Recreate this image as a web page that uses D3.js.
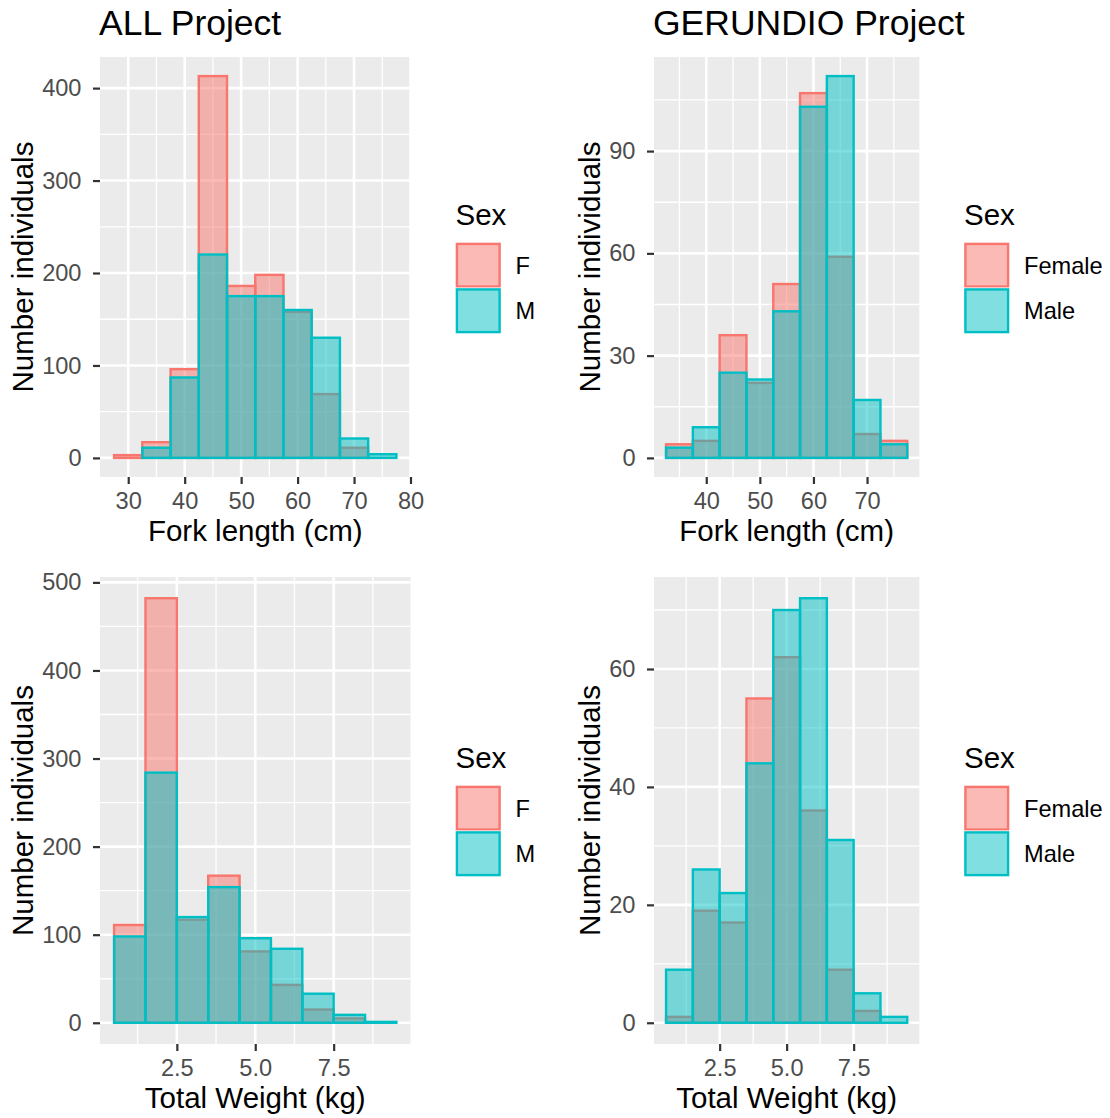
<!DOCTYPE html>
<html>
<head>
<meta charset="utf-8">
<script src="https://cdn.jsdelivr.net/npm/d3@7"></script>
<style>
  body { margin: 0; background: #fff; }
  svg text { font-family: "Liberation Sans", Arial, sans-serif; }
</style>
</head>
<body>
<div id="chart"></div>
<script>
// histogram counts (bin centres + counts per sex)
const allLenMids = [30, 35, 40, 45, 50, 55, 60, 65, 70, 75];
const allLenF = [3, 17, 96, 413, 186, 198, 158, 69, 11, 0];
const allLenM = [0, 11, 87, 220, 175, 175, 160, 130, 21, 4];

const gerLenMids = [35, 40, 45, 50, 55, 60, 65, 70, 75];
const gerLenF = [4, 5, 36, 22, 51, 107, 59, 7, 5];
const gerLenM = [3, 9, 25, 23, 43, 103, 112, 17, 4];

const allWtMids = [1, 2, 3, 4, 5, 6, 7, 8, 9];
const allWtF = [111, 482, 117, 167, 81, 43, 15, 5, 0];
const allWtM = [98, 284, 120, 154, 96, 84, 33, 9, 1];

const gerWtMids = [1, 2, 3, 4, 5, 6, 7, 8, 9];
const gerWtF = [1, 19, 17, 55, 62, 36, 9, 2, 0];
const gerWtM = [9, 26, 22, 44, 70, 72, 31, 5, 1];

// tick labels
const lenTicksAll = [30, 40, 50, 60, 70, 80];
const lenTicksGer = [40, 50, 60, 70];
const wtTicks = [2.5, 5.0, 7.5];
const yTicksAllLen = [0, 100, 200, 300, 400];
const yTicksGerLen = [0, 30, 60, 90];
const yTicksAllWt = [0, 100, 200, 300, 400, 500];
const yTicksGerWt = [0, 20, 40, 60];

const sexShort = ["F", "M"];
const sexLong = ["Female", "Male"];
const fillF = "#F8766D", fillM = "#00BFC4";

const svgWidth = 1110, svgHeight = 1118;
const tickSize = 23.6, titleSize = 29.5, plotTitleSize = 35.5;

const svg = d3.select("#chart").append("svg")
    .attr("width", svgWidth)
    .attr("height", svgHeight);

// panels: geometry + which data goes where
const panels = [
  { title: "ALL Project", xlab: "Fork length (cm)", left: 100, right: 410.5, top: 57, bottom: 477,
    mids: allLenMids, f: allLenF, m: allLenM, bw: 5, xTicks: lenTicksAll, yTicks: yTicksAllLen,
    xfmt: d3.format("d"), labels: sexShort, legX: 455.5, legY: 225 },
  { title: "GERUNDIO Project", xlab: "Fork length (cm)", left: 654, right: 919.3, top: 57, bottom: 477,
    mids: gerLenMids, f: gerLenF, m: gerLenM, bw: 5, xTicks: lenTicksGer, yTicks: yTicksGerLen,
    xfmt: d3.format("d"), labels: sexLong, legX: 964, legY: 225 },
  { title: null, xlab: "Total Weight (kg)", left: 100, right: 410.5, top: 577, bottom: 1044,
    mids: allWtMids, f: allWtF, m: allWtM, bw: 1, xTicks: wtTicks, yTicks: yTicksAllWt,
    xfmt: d3.format(".1f"), labels: sexShort, legX: 455.5, legY: 768 },
  { title: null, xlab: "Total Weight (kg)", left: 654, right: 919.3, top: 577, bottom: 1044,
    mids: gerWtMids, f: gerWtF, m: gerWtM, bw: 1, xTicks: wtTicks, yTicks: yTicksGerWt,
    xfmt: d3.format(".1f"), labels: sexLong, legX: 964, legY: 768 }
];

// midpoints between major breaks, extended one step each side
function minorBreaks(ticks, domain) {
  const step = ticks[1] - ticks[0];
  const ext = [ticks[0] - step, ...ticks, ticks[ticks.length - 1] + step];
  const out = [];
  for (let i = 0; i < ext.length - 1; i++) {
    const v = (ext[i] + ext[i + 1]) / 2;
    if (v > domain[0] && v < domain[1]) out.push(v);
  }
  return out;
}

function drawPanel(p) {
  const lo = p.mids[0] - p.bw / 2, hi = p.mids[p.mids.length - 1] + p.bw / 2;
  const padX = (hi - lo) * 0.05;
  const ymax = d3.max([...p.f, ...p.m]);

  const x = d3.scaleLinear().domain([lo - padX, hi + padX]).range([p.left, p.right]);
  const y = d3.scaleLinear().domain([-ymax * 0.05, ymax * 1.05]).range([p.bottom, p.top]);

  const g = svg.append("g");

  // panel background
  g.append("rect")
    .attr("x", p.left).attr("y", p.top)
    .attr("width", p.right - p.left).attr("height", p.bottom - p.top)
    .attr("fill", "#EBEBEB");

  // grid lines
  const xMinor = minorBreaks(p.xTicks, x.domain());
  const yMinor = minorBreaks(p.yTicks, y.domain());

  g.selectAll(".xminor").data(xMinor).join("line")
    .attr("x1", d => x(d)).attr("x2", d => x(d))
    .attr("y1", p.top).attr("y2", p.bottom)
    .attr("stroke", "#fff").attr("stroke-width", 1.3);
  g.selectAll(".yminor").data(yMinor).join("line")
    .attr("y1", d => y(d)).attr("y2", d => y(d))
    .attr("x1", p.left).attr("x2", p.right)
    .attr("stroke", "#fff").attr("stroke-width", 1.3);
  g.selectAll(".xmajor").data(p.xTicks.filter(d => x(d) <= p.right)).join("line")
    .attr("x1", d => x(d)).attr("x2", d => x(d))
    .attr("y1", p.top).attr("y2", p.bottom)
    .attr("stroke", "#fff").attr("stroke-width", 2.6);
  g.selectAll(".ymajor").data(p.yTicks).join("line")
    .attr("y1", d => y(d)).attr("y2", d => y(d))
    .attr("x1", p.left).attr("x2", p.right)
    .attr("stroke", "#fff").attr("stroke-width", 2.6);

  // bars: females first, males overlaid (position = identity, alpha 0.5)
  const series = [
    { counts: p.f, color: fillF },
    { counts: p.m, color: fillM }
  ];
  series.forEach(s => {
    g.append("g").selectAll("rect")
      .data(p.mids.map((d, i) => ({ mid: d, n: s.counts[i] })))
      .join("rect")
      .attr("x", d => x(d.mid - p.bw / 2))
      .attr("width", d => x(d.mid + p.bw / 2) - x(d.mid - p.bw / 2))
      .attr("y", d => y(d.n))
      .attr("height", d => y(0) - y(d.n))
      .attr("fill", s.color).attr("fill-opacity", 0.5)
      .attr("stroke", s.color).attr("stroke-width", 2.4);
  });

  // axes (ggplot-like: grey ticks, no domain line)
  const xAxis = g.append("g")
    .attr("transform", `translate(0,${p.bottom})`)
    .call(d3.axisBottom(x).tickValues(p.xTicks).tickFormat(p.xfmt).tickSize(7).tickPadding(8.5));
  const yAxis = g.append("g")
    .attr("transform", `translate(${p.left},0)`)
    .call(d3.axisLeft(y).tickValues(p.yTicks).tickSize(7).tickPadding(11.5));
  [xAxis, yAxis].forEach(a => {
    a.select(".domain").remove();
    a.selectAll(".tick line").attr("stroke", "#333333").attr("stroke-width", 2.2);
    a.selectAll(".tick text")
      .attr("fill", "#4D4D4D")
      .style("font-size", tickSize + "px")
      .style("font-family", '"Liberation Sans", Arial, sans-serif');
  });

  // widest y tick label decides where the y title sits
  let labW = 0;
  yAxis.selectAll(".tick text").each(function() {
    labW = Math.max(labW, this.getComputedTextLength());
  });

  // axis titles
  g.append("text")
    .attr("x", (p.left + p.right) / 2)
    .attr("y", p.bottom + 64)
    .attr("text-anchor", "middle")
    .style("font-size", titleSize + "px")
    .text(p.xlab);

  g.append("text")
    .attr("transform", `translate(${p.left - 18.5 - labW - 9},${(p.top + p.bottom) / 2}) rotate(-90)`)
    .attr("text-anchor", "middle")
    .style("font-size", titleSize + "px")
    .text("Number individuals");

  if (p.title) {
    g.append("text")
      .attr("x", p.left - 1)
      .attr("y", 35)
      .style("font-size", plotTitleSize + "px")
      .text(p.title);
  }

  // legend
  const leg = g.append("g").attr("transform", `translate(${p.legX},${p.legY})`);
  leg.append("text")
    .attr("x", 0).attr("y", 0)
    .style("font-size", titleSize + "px")
    .text("Sex");
  const keySize = 45.5;
  [fillF, fillM].forEach((c, i) => {
    const ky = 17.5 + i * keySize;
    leg.append("rect")
      .attr("x", 0).attr("y", ky)
      .attr("width", keySize).attr("height", keySize)
      .attr("fill", "#F2F2F2").attr("stroke", "#fff");
    leg.append("rect")
      .attr("x", 1.4).attr("y", ky + 1.4)
      .attr("width", keySize - 2.8).attr("height", keySize - 2.8)
      .attr("fill", "#fff");
    leg.append("rect")
      .attr("x", 1.4).attr("y", ky + 1.4)
      .attr("width", keySize - 2.8).attr("height", keySize - 2.8)
      .attr("fill", c).attr("fill-opacity", 0.5)
      .attr("stroke", c).attr("stroke-width", 2.4);
    leg.append("text")
      .attr("x", keySize + 14.5)
      .attr("y", ky + keySize / 2 + 8.5)
      .style("font-size", tickSize + "px")
      .text(p.labels[i]);
  });
}

panels.forEach(drawPanel);
</script>
</body>
</html>
